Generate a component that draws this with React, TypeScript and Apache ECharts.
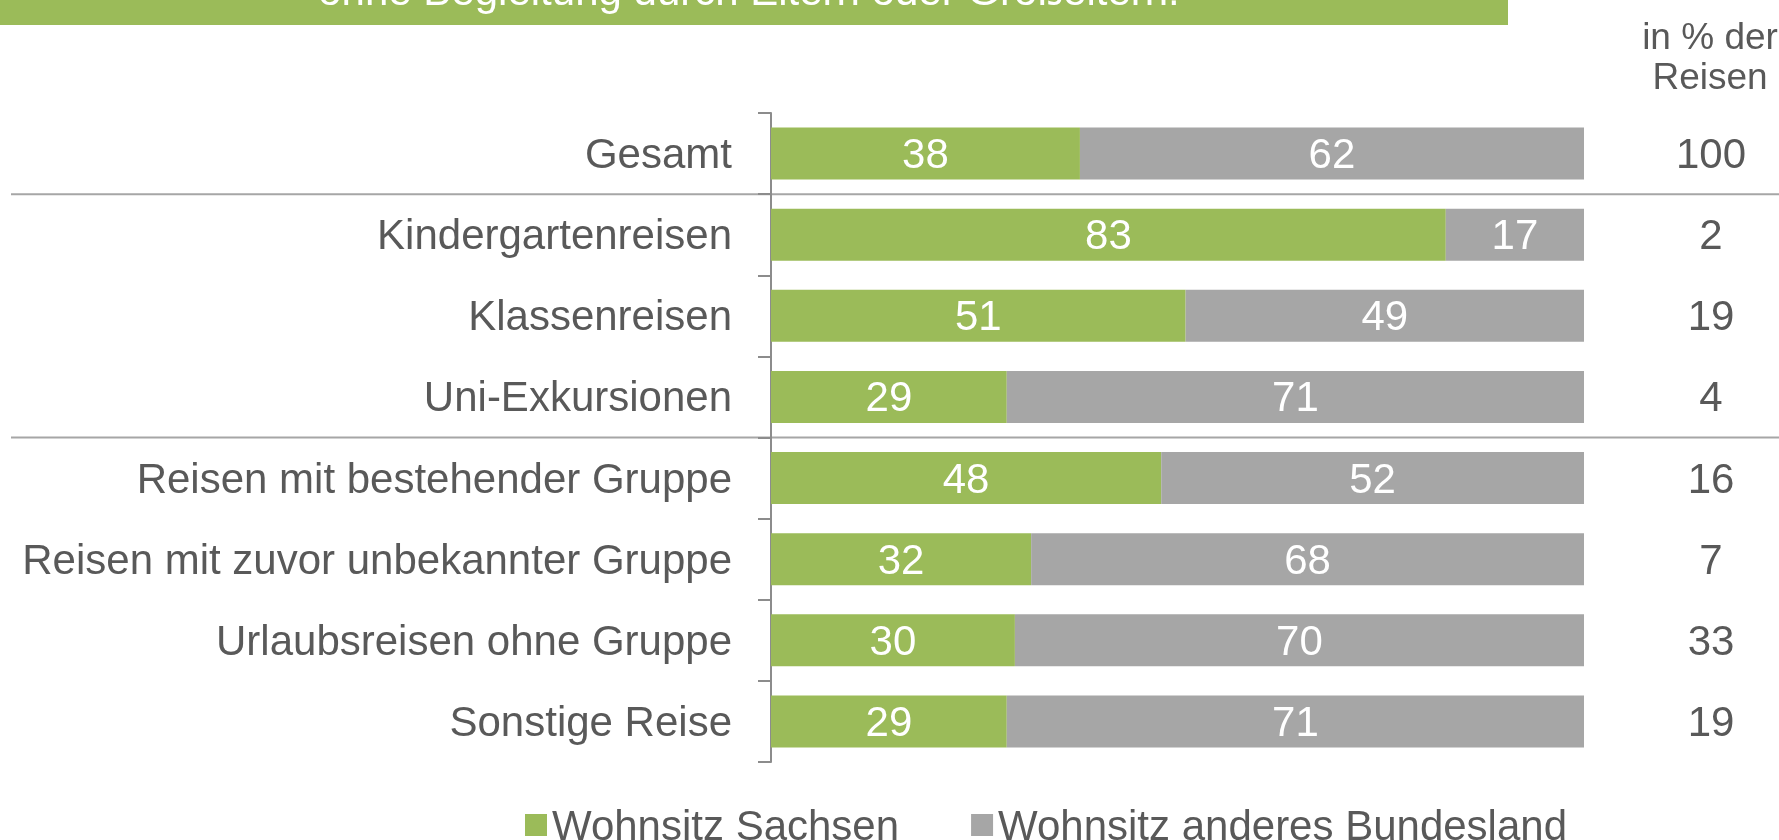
import React, { useEffect, useRef } from "react";
import * as echarts from "echarts";

const categories = [
  "Gesamt",
  "Kindergartenreisen",
  "Klassenreisen",
  "Uni-Exkursionen",
  "Reisen mit bestehender Gruppe",
  "Reisen mit zuvor unbekannter Gruppe",
  "Urlaubsreisen ohne Gruppe",
  "Sonstige Reise",
];
const sachsen = [38, 83, 51, 29, 48, 32, 30, 29];
const andere = [62, 17, 49, 71, 52, 68, 70, 71];
const anteil = [100, 2, 19, 4, 16, 7, 33, 19];
const seriesNames = ["Wohnsitz Sachsen", "Wohnsitz anderes Bundesland"];
const titleText = "ohne Begleitung durch Eltern oder Großeltern.";
const headerText = "in % der\nReisen";

const FONT = "'Liberation Sans', Arial, sans-serif";
const GREEN = "#9BBB59";
const GRAY = "#A6A6A6";
const TEXT = "#595959";
const AXIS = "#8C8C8C";

export default function App() {
  const ref = useRef<HTMLDivElement>(null);
  useEffect(() => {
    if (!ref.current) return;
    const chart = echarts.init(ref.current, null, { renderer: "svg" });
    const baseGraphic: any[] = [
      {
        id: "banner",
        type: "rect",
        shape: { x: 0, y: 0, width: 1508, height: 25 },
        style: { fill: GREEN },
        z: 1,
      },
      {
        id: "bannerText",
        type: "text",
        x: 749,
        y: -10,
        z: 2,
        style: {
          text: titleText,
          fill: "#ffffff",
          fontSize: 42,
          fontFamily: FONT,
          align: "center",
          verticalAlign: "middle",
        },
      },
      {
        id: "header",
        type: "text",
        x: 1710,
        y: 56,
        style: {
          text: headerText,
          fill: TEXT,
          fontSize: 37,
          lineHeight: 40,
          fontFamily: FONT,
          align: "center",
          verticalAlign: "middle",
        },
      },
    ];
    const barLabel = {
      show: true,
      position: "inside",
      color: "#ffffff",
      fontSize: 42,
      fontFamily: FONT,
    };
    const option: any = {
      animation: false,
      textStyle: { fontFamily: FONT },
      grid: { left: 771, right: 195, top: 113, bottom: 78, containLabel: false },
      legend: {
        data: seriesNames,
        left: 520,
        top: 799,
        icon: "rect",
        itemWidth: 22,
        itemHeight: 22,
        itemGap: 72,
        textStyle: { fontSize: 42, color: TEXT, fontFamily: FONT },
      },
      xAxis: {
        type: "value",
        min: 0,
        max: 100,
        show: false,
      },
      yAxis: [
        {
          type: "category",
          data: categories,
          inverse: true,
          axisLine: { show: true, lineStyle: { color: AXIS, width: 2 } },
          axisTick: {
            show: true,
            length: 13,
            alignWithLabel: false,
            lineStyle: { color: AXIS, width: 2 },
          },
          splitLine: { show: false },
          axisLabel: { fontSize: 42, color: TEXT, margin: 39, fontFamily: FONT },
        },
        {
          type: "category",
          data: anteil.map(String),
          inverse: true,
          position: "right",
          axisLine: { show: false },
          axisTick: { show: false },
          splitLine: { show: false },
          axisLabel: {
            fontSize: 42,
            color: TEXT,
            margin: 127,
            align: "center",
            fontFamily: FONT,
          },
        },
      ],
      series: [
        {
          name: seriesNames[0],
          type: "bar",
          stack: "total",
          data: sachsen,
          barWidth: 52,
          itemStyle: { color: GREEN },
          label: barLabel,
        },
        {
          name: seriesNames[1],
          type: "bar",
          stack: "total",
          data: andere,
          barWidth: 52,
          itemStyle: { color: GRAY },
          label: barLabel,
        },
      ],
      graphic: baseGraphic,
    };
    chart.setOption(option);

    const py = (i: number) =>
      chart.convertToPixel({ yAxisIndex: 0 }, categories[i]) as number;
    const sep1 = (py(0) + py(1)) / 2;
    const sep2 = (py(3) + py(4)) / 2;
    chart.setOption({
      graphic: [
        ...baseGraphic,
        {
          id: "sep1",
          type: "line",
          shape: { x1: 11, y1: sep1, x2: 1779, y2: sep1 },
          style: { stroke: GRAY, lineWidth: 2 },
          z: 0,
        },
        {
          id: "sep2",
          type: "line",
          shape: { x1: 11, y1: sep2, x2: 1779, y2: sep2 },
          style: { stroke: GRAY, lineWidth: 2 },
          z: 0,
        },
      ],
    });
    return () => chart.dispose();
  }, []);
  return (
    <div
      ref={ref}
      style={{ position: "fixed", left: 0, top: 0, width: 1779, height: 840 }}
    />
  );
}
